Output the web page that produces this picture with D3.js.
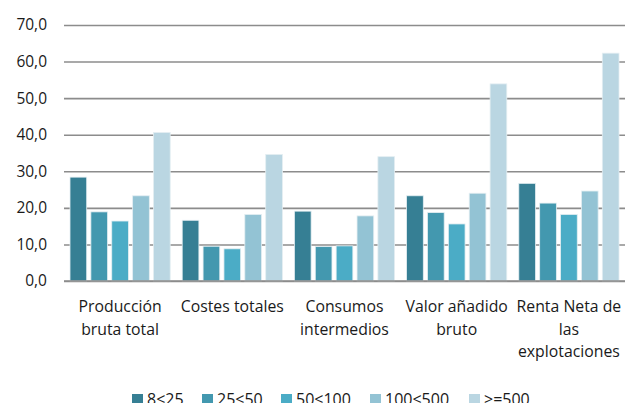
<!DOCTYPE html>
<html>
<head>
<meta charset="utf-8">
<script src="https://cdn.jsdelivr.net/npm/d3@7"></script>
<style>
  body { margin: 0; background: #fff; overflow: hidden; }
  svg { display: block; }
  svg text { font-family: "Open Sans", "DejaVu Sans", sans-serif; fill: #1a1a1a; }
</style>
</head>
<body>
<div class="chart"></div>
<script>
var categories = [
  ["Producción", "bruta total"],
  ["Costes totales"],
  ["Consumos", "intermedios"],
  ["Valor añadido", "bruto"],
  ["Renta Neta de", "las", "explotaciones"]
];
var series = ["8<25", "25<50", "50<100", "100<500", ">=500"];
var colors = ["#367f94", "#4398af", "#4bacc6", "#93c3d4", "#bad6e2"];
// values per series, one per category
var v8_25 = [28.4, 16.6, 19.1, 23.3, 26.7];
var v25_50 = [18.9, 9.5, 9.4, 18.7, 21.3];
var v50_100 = [16.4, 8.8, 9.6, 15.6, 18.2];
var v100_500 = [23.3, 18.2, 17.8, 24.0, 24.6];
var v500 = [40.6, 34.6, 34.0, 53.9, 62.3];
var yTicks = [0, 10, 20, 30, 40, 50, 60, 70];

var values = [v8_25, v25_50, v50_100, v100_500, v500];

var width = 625, height = 403;
var plotLeft = 64, plotRight = 625, plotTop = 25, plotBottom = 281;

var svg = d3.select(".chart").append("svg")
    .attr("width", width)
    .attr("height", height);

var y = d3.scaleLinear().domain([0, 70]).range([plotBottom, plotTop]);
var x0 = d3.scaleBand().domain(d3.range(categories.length)).range([plotLeft, plotRight]);
var x1 = d3.scaleBand().domain(d3.range(series.length))
    .range([6, x0.bandwidth() - 6]).paddingInner(0.2);

/*
    Grid + y labels
*/
var yAxis = d3.axisLeft(y).tickValues(yTicks)
    .tickSize(-(plotRight - plotLeft))
    .tickPadding(17)
    .tickFormat(function (d) { return d3.format(".1f")(d).replace(".", ","); });
var gy = svg.append("g")
    .attr("transform", "translate(" + plotLeft + ",0)")
    .call(yAxis);
gy.select(".domain").remove();
gy.selectAll("line").attr("stroke", "#8c8c8c").attr("stroke-width", 1.6);
gy.selectAll("text").attr("font-size", 15.5).attr("fill", "#1a1a1a");

/*
    Bars
*/
var groups = svg.selectAll("g.cat").data(categories).enter().append("g")
    .attr("class", "cat")
    .attr("transform", function (d, i) { return "translate(" + x0(i) + ",0)"; });

groups.selectAll("rect")
    .data(function (d, i) { return values.map(function (s, j) { return { s: j, v: s[i] }; }); })
    .enter().append("rect")
    .attr("x", function (d) { return x1(d.s); })
    .attr("y", function (d) { return y(d.v); })
    .attr("width", x1.bandwidth())
    .attr("height", function (d) { return y(0) - y(d.v); })
    .attr("fill", function (d) { return colors[d.s]; })
    .attr("stroke", "#e4eef2")
    .attr("stroke-width", 0.8);

// baseline over the bars
svg.append("line")
    .attr("x1", plotLeft).attr("x2", plotRight)
    .attr("y1", y(0)).attr("y2", y(0))
    .attr("stroke", "#8c8c8c").attr("stroke-width", 1.6);

/*
    Category labels
*/
groups.append("text")
    .attr("text-anchor", "middle")
    .attr("font-size", 15.8)
    .selectAll("tspan")
    .data(function (d) { return d; })
    .enter().append("tspan")
    .attr("x", x0.bandwidth() / 2)
    .attr("y", function (d, i) { return 312 + i * 22.5; })
    .text(function (d) { return d; });

/*
    Legend
*/
var legendX = [132, 202, 281, 370, 469];
var legend = svg.selectAll("g.legend").data(series).enter().append("g")
    .attr("class", "legend")
    .attr("transform", function (d, i) { return "translate(" + legendX[i] + ",394)"; });
legend.append("rect")
    .attr("width", 11).attr("height", 11)
    .attr("fill", function (d, i) { return colors[i]; });
legend.append("text")
    .attr("x", 15).attr("y", 11)
    .attr("font-size", 16)
    .text(function (d) { return d; });
</script>
</body>
</html>
